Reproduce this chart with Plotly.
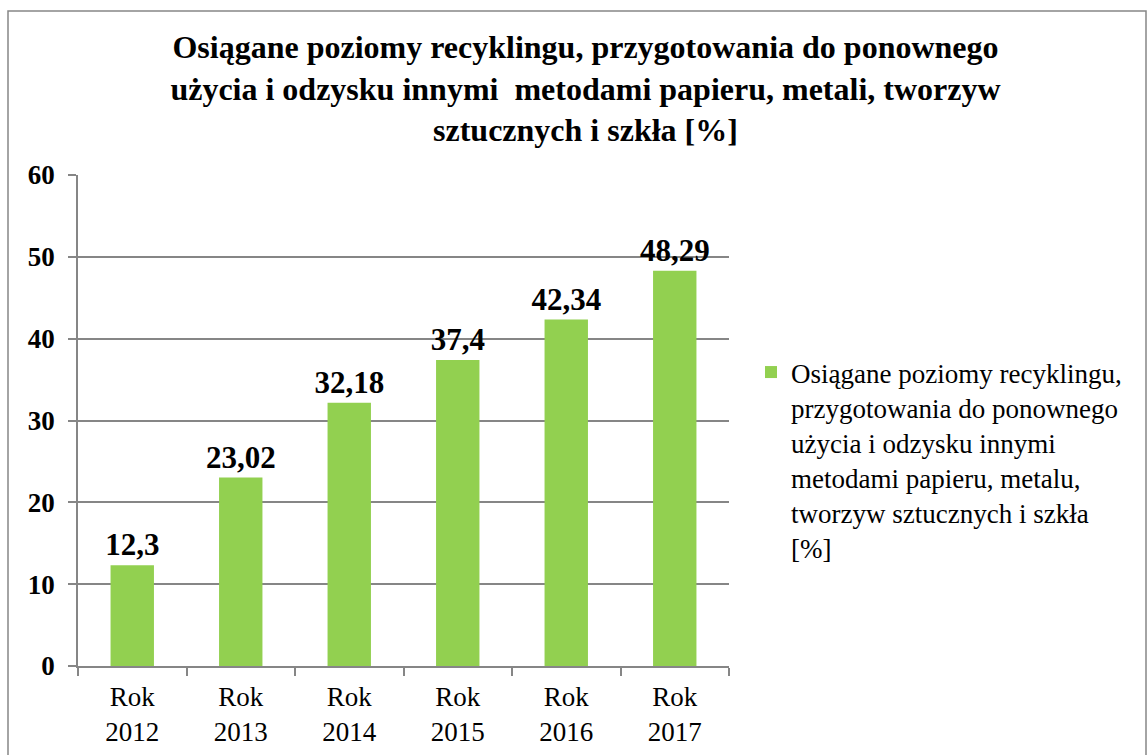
import plotly.graph_objects as go

categories = ["Rok<br>2012", "Rok<br>2013", "Rok<br>2014", "Rok<br>2015", "Rok<br>2016", "Rok<br>2017"]
values = [12.3, 23.02, 32.18, 37.4, 42.34, 48.29]
labels = [str(v).replace(".", ",") for v in values]
series_name = ("Osiągane poziomy recyklingu,<br>przygotowania do ponownego<br>użycia i odzysku innymi<br>"
               "metodami papieru, metalu,<br>tworzyw sztucznych i szkła<br>[%]")
title_text = ("Osiągane poziomy recyklingu, przygotowania do ponownego<br>"
              "użycia i odzysku innymi  metodami papieru, metali, tworzyw<br>"
              "sztucznych i szkła [%]")

FONT = "Liberation Serif, Times New Roman, serif"
L, R, T, B = 78, 419, 175, 89
W, H = 1148, 755
pw, ph = W - L - R, H - T - B

def px_x(x):
    return (x - L) / pw

def px_y(y):
    return (H - B - y) / ph

fig = go.Figure()
fig.add_trace(go.Bar(
    x=categories, y=values, name=series_name,
    marker=dict(color="#92D050", line=dict(width=0)),
    width=0.4,
    text=labels, textposition="outside", cliponaxis=False, constraintext="none",
    textfont=dict(family=FONT, size=31, color="black", weight="bold"),
    showlegend=True,
))

fig.update_layout(
    width=W, height=H,
    margin=dict(l=L, r=R, t=T, b=B, autoexpand=False),
    paper_bgcolor="white", plot_bgcolor="white",
    font=dict(family=FONT, color="black"),
    title=dict(text=title_text, x=0.51, xanchor="center", y=1 - 58 / H, yanchor="middle",
               font=dict(family=FONT, size=32, color="black", weight="bold")),
    showlegend=True,
    legend=dict(x=px_x(751), y=px_y(348), xanchor="left", yanchor="top",
                font=dict(family=FONT, size=27, color="black"),
                valign="top", bgcolor="rgba(0,0,0,0)", itemwidth=30,
                tracegroupgap=0),
    xaxis=dict(showgrid=False, showline=True, linecolor="#868686", linewidth=1.5,
               ticks="outside", tickson="boundaries", ticklen=8, tickcolor="#868686", tickwidth=1.5,
               ticklabelstandoff=6, automargin=False,
               tickfont=dict(family=FONT, size=27, color="black")),
    yaxis=dict(range=[0, 60], dtick=10, showgrid=True, gridcolor="#868686", gridwidth=1.5,
               showline=True, linecolor="#868686", linewidth=1.5,
               ticks="outside", ticklen=8, tickcolor="#868686", tickwidth=1.5,
               ticklabelstandoff=8, automargin=False,
               tickfont=dict(family=FONT, size=27, color="black", weight="bold"),
               zeroline=False),
    bargap=0.6,
    shapes=[dict(type="rect", xref="paper", yref="paper",
                 x0=px_x(8), x1=px_x(1146), y0=px_y(11), y1=px_y(800),
                 line=dict(color="#868686", width=1.5), fillcolor="rgba(0,0,0,0)", layer="below")],
)

fig.write_html("out.html", config={"displayModeBar": False},
               post_script="document.body.style.margin='0px';")
